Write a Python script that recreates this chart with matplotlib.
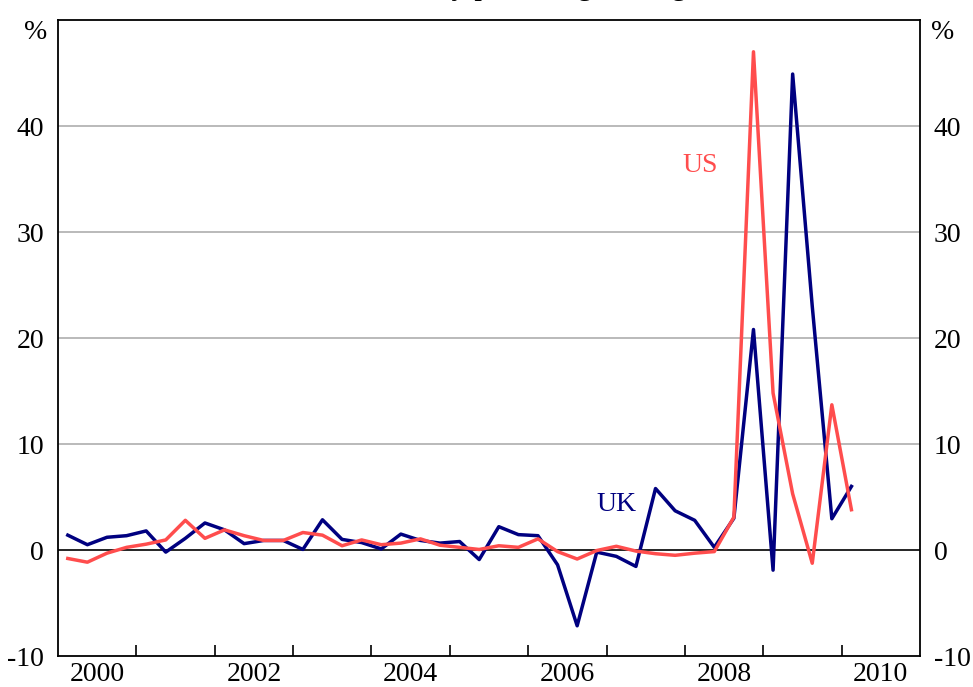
import pandas as pd
import matplotlib
matplotlib.use('Agg')
import matplotlib.pyplot as plt
from matplotlib.ticker import FixedLocator, NullFormatter, FixedFormatter

plt.rcParams['font.family'] = ['Liberation Serif', 'DejaVu Serif']

# quarterly data, 2000Q1 - 2010Q1 (per cent)
quarters = pd.period_range('2000Q1', '2010Q1', freq='Q')
uk = [1.4, 0.5, 1.2, 1.35, 1.8, -0.2, 1.1, 2.55, 1.9, 0.6,
      0.9, 0.9, 0.05, 2.85, 1.0, 0.7, 0.1, 1.5, 0.9, 0.65,
      0.8, -0.9, 2.2, 1.45, 1.35, -1.4, -7.15, -0.2, -0.6, -1.55,
      5.8, 3.7, 2.8, 0.25, 3.0, 20.8, -1.9, 44.9, 23.0, 2.95,
      6.0]
us = [-0.8, -1.15, -0.3, 0.25, 0.55, 0.95, 2.8, 1.1, 1.9, 1.35,
      0.9, 0.9, 1.65, 1.4, 0.4, 0.95, 0.5, 0.65, 1.05, 0.45,
      0.25, 0.05, 0.4, 0.25, 1.05, -0.15, -0.85, -0.05, 0.35, -0.1,
      -0.35, -0.5, -0.3, -0.15, 3.1, 47.0, 14.8, 5.3, -1.25, 13.7,
      3.8]
year_labels = ['2000', '2002', '2004', '2006', '2008', '2010']
yticks = [-10, 0, 10, 20, 30, 40]

# place each quarter in the middle of its slot
x = [q.year + (q.quarter - 0.5) / 4 for q in quarters]

fig = plt.figure(figsize=(9.73, 6.87), dpi=100)
ax = fig.add_axes([58/973, 1 - 656/687, (920-58)/973, (656-20)/687])

for yv in [10, 20, 30, 40]:
    ax.axhline(yv, color='#b4b4b4', lw=1.3, zorder=1)
ax.axhline(0, color='black', lw=1.2, zorder=1)

ax.plot(x, uk, color='#000080', lw=2.5, zorder=3)
ax.plot(x, us, color='#ff4d4d', lw=2.5, zorder=4)

ax.set_xlim(2000, 2011)
ax.set_ylim(-10, 50)

# year boundaries as ticks, labels in the middle of every other year
ax.xaxis.set_major_locator(FixedLocator(range(2001, 2011)))
ax.xaxis.set_major_formatter(NullFormatter())
ax.xaxis.set_minor_locator(FixedLocator([int(y) + 0.5 for y in year_labels]))
ax.xaxis.set_minor_formatter(FixedFormatter(year_labels))
ax.tick_params(axis='x', which='major', direction='in', length=8, width=1.2, color='black')
ax.tick_params(axis='x', which='minor', length=0, labelsize=20, pad=4)

ax.set_yticks(yticks)
ax.set_yticklabels([str(v) for v in yticks])
ax.tick_params(axis='y', length=0, labelsize=20, pad=10, labelleft=True, labelright=True)

for s in ax.spines.values():
    s.set_linewidth(1.3)
    s.set_color('black')

ax.text(-0.013, 1.0, '%', transform=ax.transAxes, ha='right', va='top', fontsize=20)
ax.text(1.013, 1.0, '%', transform=ax.transAxes, ha='left', va='top', fontsize=20)

ax.text(2008.2, 36.3, 'US', color='#ff4d4d', fontsize=20, ha='center', va='center')
ax.text(2007.13, 4.3, 'UK', color='#000080', fontsize=20, ha='center', va='center')

# title sits above the frame, only its descenders show (as in the source)
fig.text(0.54, 1.0 + 6/687, 'Quarterly percentage change', ha='center', va='baseline', fontsize=22)

fig.savefig('out.png', dpi=100)
